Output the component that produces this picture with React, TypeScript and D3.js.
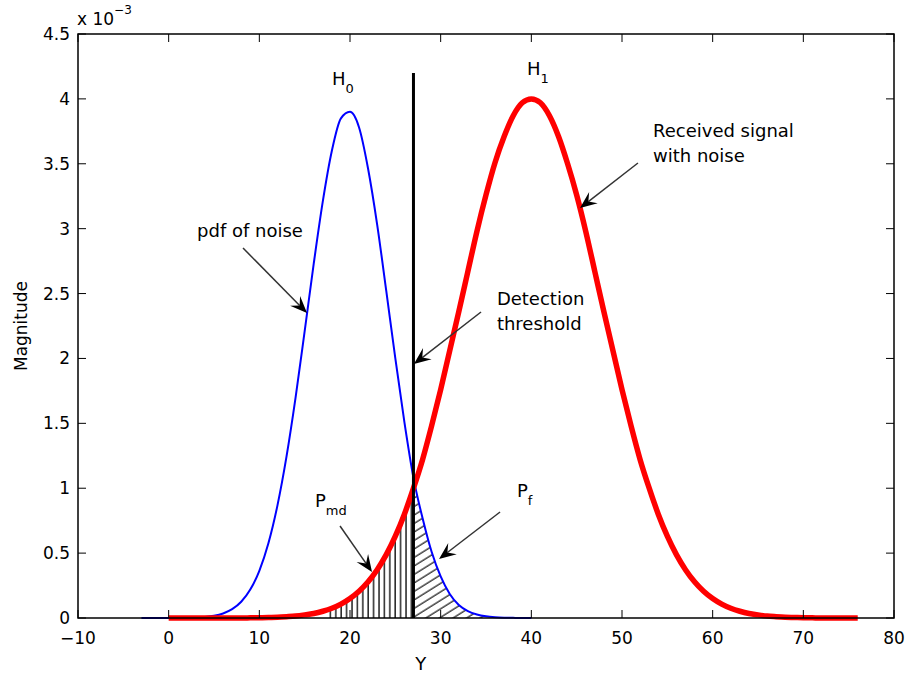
import React from 'react';
import * as d3 from 'd3';

// ---- data (magnitudes in units of 1e-3) ----
const noiseStartX = -3;
const noiseValues = [
  0, 0, 0, 0, 0, 0.002, 0.004, 0.008, 0.017, 0.035, 0.068, 0.125, 0.219, 0.364, 0.576,
  0.868, 1.245, 1.7, 2.21, 2.73, 3.21, 3.6, 3.85, 3.9, 3.78, 3.46, 3.03, 2.52, 2.0,
  1.51, 1.08, 0.77, 0.51, 0.32, 0.185, 0.1, 0.053, 0.027, 0.013, 0.006, 0.0025, 0.001, 0, 0,
];
const signalStartX = 0;
const signalValues = [
  0, 0, 0, 0, 0, 0, 0, 0, 0, 0.001, 0.002, 0.004, 0.006, 0.01, 0.015, 0.024, 0.035, 0.052,
  0.075, 0.107, 0.15, 0.206, 0.279, 0.372, 0.488, 0.63, 0.8, 1.0, 1.22, 1.48, 1.76, 2.06,
  2.36, 2.67, 2.98, 3.26, 3.51, 3.71, 3.87, 3.97, 4.0, 3.97, 3.87, 3.71, 3.5, 3.26, 2.98,
  2.67, 2.36, 2.06, 1.76, 1.48, 1.22, 1.0, 0.8, 0.63, 0.488, 0.372, 0.279, 0.206, 0.15,
  0.107, 0.075, 0.052, 0.035, 0.024, 0.015, 0.01, 0.006, 0.004, 0.002, 0.001, 0, 0, 0, 0, 0,
];
const threshold = 27;
const thresholdTop = 4.2;
const pmdRange = [17.5, 27];
const pfRange = [27, 37];
const xTicks = [-10, 0, 10, 20, 30, 40, 50, 60, 70, 80];
const yTicks = [0, 0.5, 1, 1.5, 2, 2.5, 3, 3.5, 4, 4.5];
const yTickLabels = ['0', '0.5', '1', '1.5', '2', '2.5', '3', '3.5', '4', '4.5'];

// annotations in data coordinates
const arrows = [
  { from: [8.2, 2.851], to: [15.26, 2.35] },
  { from: [34.45, 2.358], to: [27.05, 1.957] },
  { from: [51.76, 3.506], to: [45.37, 3.159] },
  { from: [18.9, 0.709], to: [22.43, 0.354] },
  { from: [36.55, 0.817], to: [29.82, 0.455] },
];
const notes = [
  { x: 3.13, y: 2.936, text: 'pdf of noise' },
  { x: 36.2, y: 2.412, text: 'Detection' },
  { x: 36.2, y: 2.219, text: 'threshold' },
  { x: 53.42, y: 3.706, text: 'Received signal' },
  { x: 53.42, y: 3.514, text: 'with noise' },
];
const subNotes = [
  { x: 18.01, y: 4.107, main: 'H', sub: '0' },
  { x: 39.52, y: 4.184, main: 'H', sub: '1' },
  { x: 16.14, y: 0.855, main: 'P', sub: 'md' },
  { x: 38.42, y: 0.932, main: 'P', sub: 'f' },
];
const xLabelAt = 27.8;

const W = 911;
const H = 680;
const M = { left: 78, right: 894, top: 34, bottom: 618 };
const FONT = '"DejaVu Sans", "Liberation Sans", Arial, sans-serif';

export default function App() {
  const x = d3.scaleLinear().domain([-10, 80]).range([M.left, M.right]);
  const y = d3.scaleLinear().domain([0, 4.5]).range([M.bottom, M.top]);

  const noise = noiseValues.map((v, i) => ({ x: noiseStartX + i, y: v }));
  const signal = signalValues.map((v, i) => ({ x: signalStartX + i, y: v }));

  const line = d3
    .line<{ x: number; y: number }>()
    .x((d) => x(d.x))
    .y((d) => y(d.y))
    .curve(d3.curveMonotoneX);
  const area = d3
    .area<{ x: number; y: number }>()
    .x((d) => x(d.x))
    .y0(y(0))
    .y1((d) => y(d.y))
    .curve(d3.curveMonotoneX);

  const arrowEls = arrows.map((a, i) => {
    const [x1, y1] = [x(a.from[0]), y(a.from[1])];
    const [x2, y2] = [x(a.to[0]), y(a.to[1])];
    const dx = x1 - x2;
    const dy = y1 - y2;
    const len = Math.hypot(dx, dy);
    const ux = dx / len;
    const uy = dy / len;
    const L = 17;
    const Wd = 7;
    const bx = x2 + ux * L;
    const by = y2 + uy * L;
    const nx = -uy;
    const ny = ux;
    const c1 = [bx + nx * Wd, by + ny * Wd];
    const c2 = [bx - nx * Wd, by - ny * Wd];
    const notch = [x2 + ux * L * 0.62, y2 + uy * L * 0.62];
    return (
      <g key={i}>
        <line x1={x1} y1={y1} x2={notch[0]} y2={notch[1]} stroke="#333" strokeWidth={1.5} />
        <polygon
          points={`${x2},${y2} ${c1[0]},${c1[1]} ${notch[0]},${notch[1]} ${c2[0]},${c2[1]}`}
          fill="#000"
        />
      </g>
    );
  });

  return (
    <svg width={W} height={H} style={{ position: 'absolute', left: 0, top: 0, background: '#fff' }}>
      <defs>
        <pattern id="vhatch" patternUnits="userSpaceOnUse" width={5.4} height={10}>
          <line x1={1} y1={0} x2={1} y2={10} stroke="#000" strokeWidth={1.3} />
        </pattern>
        <pattern
          id="dhatch"
          patternUnits="userSpaceOnUse"
          width={10}
          height={7.2}
          patternTransform="rotate(-32)"
        >
          <line x1={0} y1={1} x2={10} y2={1} stroke="#000" strokeWidth={1.1} />
        </pattern>
        <clipPath id="pmdClip">
          <rect x={x(pmdRange[0])} y={M.top} width={x(pmdRange[1]) - x(pmdRange[0])} height={M.bottom - M.top} />
        </clipPath>
        <clipPath id="pfClip">
          <rect x={x(pfRange[0])} y={M.top} width={x(pfRange[1]) - x(pfRange[0])} height={M.bottom - M.top} />
        </clipPath>
      </defs>
      <rect x={0} y={0} width={W} height={H} fill="#fff" />

      {/* hatched regions */}
      <path d={area(signal) || ''} fill="url(#vhatch)" clipPath="url(#pmdClip)" />
      <path d={area(noise) || ''} fill="url(#dhatch)" clipPath="url(#pfClip)" />

      {/* curves */}
      <path d={line(noise) || ''} fill="none" stroke="#0000ff" strokeWidth={2} strokeLinejoin="round" />
      <path d={line(signal) || ''} fill="none" stroke="#ff0000" strokeWidth={5.5} strokeLinejoin="round" />

      {/* threshold */}
      <line x1={x(threshold)} x2={x(threshold)} y1={y(0)} y2={y(thresholdTop)} stroke="#000" strokeWidth={3} />

      {/* axes box */}
      <rect
        x={M.left}
        y={M.top}
        width={M.right - M.left}
        height={M.bottom - M.top}
        fill="none"
        stroke="#000"
        strokeWidth={1.5}
      />
      {xTicks.map((t) => (
        <g key={'xt' + t}>
          <line x1={x(t)} x2={x(t)} y1={M.bottom} y2={M.bottom - 8} stroke="#000" strokeWidth={1} />
          <line x1={x(t)} x2={x(t)} y1={M.top} y2={M.top + 8} stroke="#000" strokeWidth={1} />
          <text x={x(t)} y={644} textAnchor="middle" fontFamily={FONT} fontSize={17} fill="#000">
            {t < 0 ? '\u2212' + Math.abs(t) : String(t)}
          </text>
        </g>
      ))}
      {yTicks.map((t, i) => (
        <g key={'yt' + t}>
          <line x1={M.left} x2={M.left + 8} y1={y(t)} y2={y(t)} stroke="#000" strokeWidth={1} />
          <line x1={M.right} x2={M.right - 8} y1={y(t)} y2={y(t)} stroke="#000" strokeWidth={1} />
          <text x={70} y={y(t) + 6} textAnchor="end" fontFamily={FONT} fontSize={17} fill="#000">
            {yTickLabels[i]}
          </text>
        </g>
      ))}
      <text x={77} y={25} fontFamily={FONT} fontSize={17} fill="#000">
        x 10
        <tspan dy={-11} fontSize={12}>
          {'\u22123'}
        </tspan>
      </text>
      <text x={x(xLabelAt)} y={670} textAnchor="middle" fontFamily={FONT} fontSize={18} fill="#000">
        Y
      </text>
      <text
        transform={`translate(27, ${(M.top + M.bottom) / 2}) rotate(-90)`}
        textAnchor="middle"
        fontFamily={FONT}
        fontSize={17}
        fill="#000"
      >
        Magnitude
      </text>

      {/* annotations */}
      {arrowEls}
      {notes.map((n, i) => (
        <text key={'n' + i} x={x(n.x)} y={y(n.y)} fontFamily={FONT} fontSize={18} fill="#000">
          {n.text}
        </text>
      ))}
      {subNotes.map((n, i) => (
        <text key={'s' + i} x={x(n.x)} y={y(n.y)} fontFamily={FONT} fontSize={18} fill="#000">
          {n.main}
          <tspan dy={8} fontSize={13}>
            {n.sub}
          </tspan>
        </text>
      ))}
    </svg>
  );
}
